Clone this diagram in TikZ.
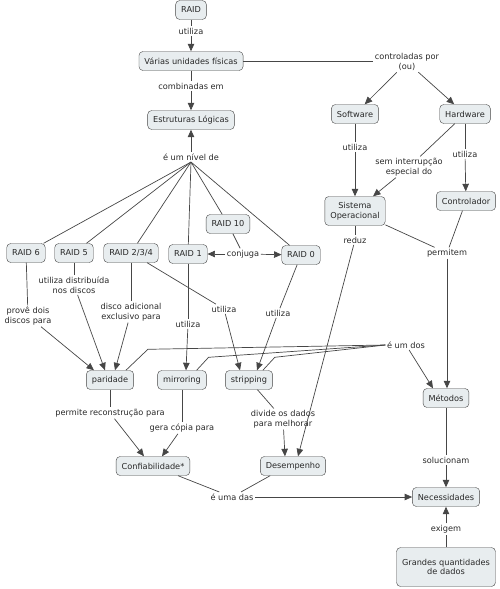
\documentclass[tikz,border=0pt]{standalone}
\usepackage{fontspec}
\setmainfont{DejaVu Sans}
\usetikzlibrary{arrows.meta,positioning}
\definecolor{mapfill}{RGB}{232,237,239}
\definecolor{mapline}{RGB}{70,70,70}
\definecolor{maptext}{RGB}{40,40,40}

\begin{document}
\begin{tikzpicture}[x=1pt, y=-1pt,
    concept/.style={draw=mapline, fill=mapfill, rounded corners=4pt, minimum height=19pt, inner xsep=5.5pt, font=\fontsize{8.2}{9.8}\selectfont, text=maptext, align=center},
    lbl/.style={inner sep=1.5pt, font=\fontsize{8.2}{9.8}\selectfont, text=maptext, align=center},
    link/.style={draw=mapline, line width=0.7pt},
    >={Triangle[width=6.5pt,length=7.5pt]}
]
\useasboundingbox (0,0) rectangle (500,589);

\node[concept] (raid) at (191,10) {RAID};
\node[concept] (varias) at (191,61) {Várias unidades físicas};
\node[concept] (estrut) at (191,120) {Estruturas Lógicas};
\node[concept] (r6) at (26,253) {RAID 6};
\node[concept] (r5) at (74,253) {RAID 5};
\node[concept] (r234) at (131,253) {RAID 2/3/4};
\node[concept] (r1) at (188,254) {RAID 1};
\node[concept] (r10) at (228,224) {RAID 10};
\node[concept] (r0) at (301,255) {RAID 0};
\node[concept] (soft) at (355,114) {Software};
\node[concept] (hard) at (465,114) {Hardware};
\node[concept, minimum height=29pt] (so) at (355,211) {Sistema\\Operacional};
\node[concept] (ctrl) at (466,201) {Controlador};
\node[concept] (par) at (110,380) {paridade};
\node[concept] (mir) at (182,380) {mirroring};
\node[concept] (strip) at (249,380) {stripping};
\node[concept] (met) at (446,398) {Métodos};
\node[concept] (conf) at (153,466) {Confiabilidade*};
\node[concept] (desemp) at (293,466) {Desempenho};
\node[concept] (nec) at (446,497) {Necessidades};
\node[concept, minimum height=39pt] (grandes) at (446,567) {Grandes quantidades\\de dados};

\node[lbl] (lutil) at (191,31) {utiliza};
\node[lbl] (lcomb) at (191,86) {combinadas em};
\node[lbl] (lctrl) at (407,62) {controladas por\\(ou)};
\node[lbl] (lnivel) at (191,157) {é um nível de};
\node[lbl] (lconj) at (243,254) {conjuga};
\node[lbl] (lsoft) at (355,147) {utiliza};
\node[lbl] (lsem) at (409,167) {sem interrupção\\especial do};
\node[lbl] (lhard) at (465,154) {utiliza};
\node[lbl] (lreduz) at (355,240) {reduz};
\node[lbl] (lperm) at (447,253) {permitem};
\node[lbl] (ldist) at (74,285) {utiliza distribuída\\nos discos};
\node[lbl] (lprove) at (28,316) {provê dois\\discos para};
\node[lbl] (ldisco) at (131,312) {disco adicional\\exclusivo para};
\node[lbl] (lutmir) at (188,324) {utiliza};
\node[lbl] (lutstr) at (224,309) {utiliza};
\node[lbl] (lutr0) at (278,313) {utiliza};
\node[lbl] (ldos) at (406,345) {é um dos};
\node[lbl] (lrecon) at (110,413) {permite reconstrução para};
\node[lbl] (lcopia) at (182,428) {gera cópia para};
\node[lbl] (ldivide) at (283,419) {divide os dados\\para melhorar};
\node[lbl] (lsoluc) at (446,460) {solucionam};
\node[lbl] (ldas) at (232,497) {é uma das};
\node[lbl] (lexig) at (446,529) {exigem};

\draw[link] (raid) -- (lutil);
\draw[link, ->] (lutil) -- (varias);
\draw[link] (varias) -- (varias.east -| lctrl.west);
\draw[link, ->] (lctrl) -- (soft);
\draw[link, ->] (lctrl) -- (hard);
\draw[link] (varias) -- (lcomb);
\draw[link, ->] (lcomb) -- (estrut);
\draw[link, ->] (lnivel) -- (estrut);
\foreach \r in {r6,r5,r234,r1,r10,r0}
    \draw[link] (\r) -- (lnivel.south);
\draw[link] (r10) -- (lconj);
\draw[link, ->] (lconj) -- (r1);
\draw[link, ->] (lconj) -- (r0);
\draw[link] (soft) -- (lsoft);
\draw[link, ->] (lsoft) -- (so);
\draw[link] (hard) -- (lsem);
\draw[link, ->] (lsem) -- (so);
\draw[link] (hard) -- (lhard);
\draw[link, ->] (lhard) -- (ctrl);
\draw[link] (so) -- (lreduz);
\draw[link, ->] (lreduz) -- ([xshift=5pt]desemp.north);
\draw[link] (so) -- (lperm);
\draw[link] (ctrl) -- (lperm);
\draw[link, ->] (lperm) -- (lperm |- met.north);
\draw[link] (r6) -- (lprove);
\draw[link, ->] (lprove) -- ([xshift=-16pt]par.north);
\draw[link] (r5) -- (ldist);
\draw[link, ->] (ldist) -- ([xshift=-5pt]par.north);
\draw[link] (r234) -- (ldisco);
\draw[link, ->] (ldisco) -- ([xshift=5pt]par.north);
\draw[link] (r234) -- (lutstr);
\draw[link, ->] (lutstr) -- ([xshift=-9pt]strip.north);
\draw[link] (r1) -- (lutmir);
\draw[link, ->] (lutmir) -- ([xshift=4pt]mir.north);
\draw[link] (r0) -- (lutr0);
\draw[link, ->] (lutr0) -- ([xshift=8pt]strip.north);
\draw[link] ([xshift=-8pt]par.north east) -- ++(22,-21) -- (ldos.west);
\draw[link] ([xshift=-10pt]mir.north east) -- ++(12,-13) -- (ldos.west);
\draw[link] ([xshift=-10pt]strip.north east) -- ++(12,-13) -- (ldos.west);
\draw[link, ->] (ldos) -- ([xshift=-13pt]met.north);
\draw[link] (par) -- (lrecon);
\draw[link, ->] (lrecon) -- ([xshift=-9pt]conf.north);
\draw[link] (mir) -- (lcopia);
\draw[link, ->] (lcopia) -- ([xshift=9pt]conf.north);
\draw[link] (strip) -- (ldivide);
\draw[link, ->] (ldivide) -- ([xshift=-8pt]desemp.north);
\draw[link] ([xshift=-12pt]conf.south east) -- (ldas);
\draw[link] ([xshift=10pt]desemp.south west) -- (ldas);
\draw[link, ->] (ldas) -- (nec);
\draw[link] (met) -- (lsoluc);
\draw[link, ->] (lsoluc) -- (nec);
\draw[link] (grandes) -- (lexig);
\draw[link, ->] (lexig) -- (nec);
\end{tikzpicture}
\end{document}
